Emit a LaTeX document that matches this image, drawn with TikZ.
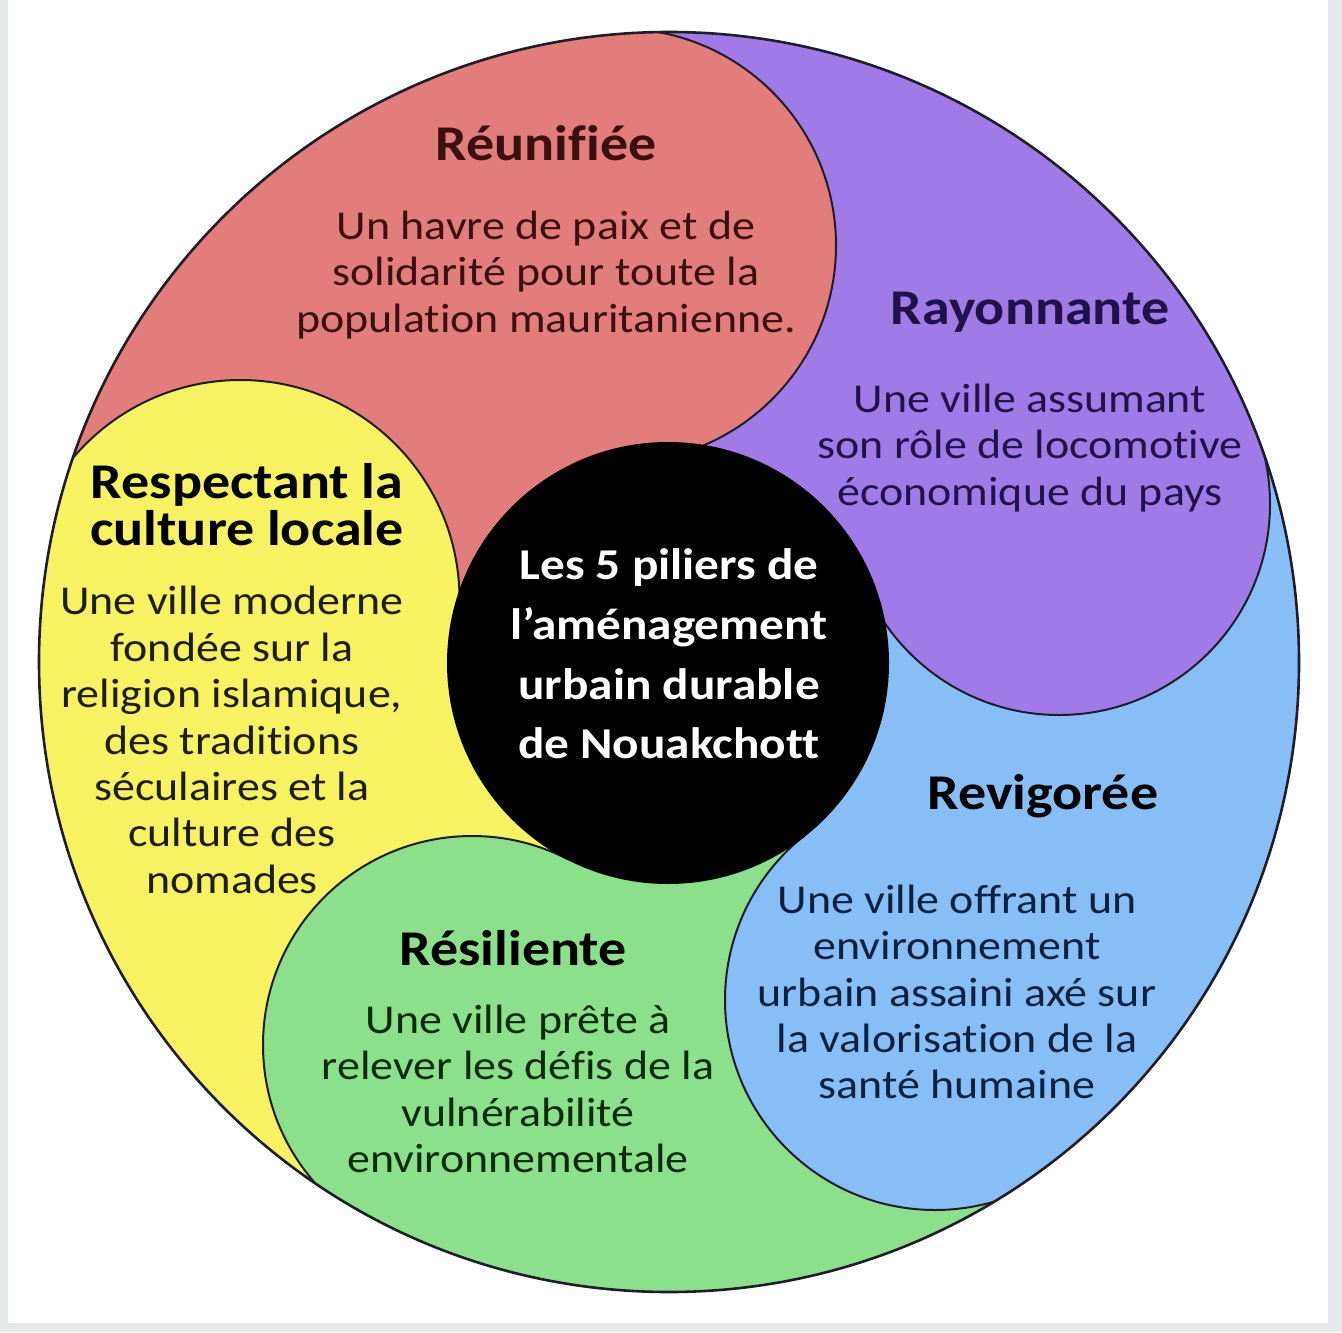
\documentclass[tikz,border=0pt]{standalone}
\usepackage{fontspec}
\setmainfont{Carlito}[FakeStretch=1.12, Ligatures=NoCommon]
\definecolor{cred}{HTML}{E27D7B}
\definecolor{cpurple}{HTML}{A07BE8}
\definecolor{cblue}{HTML}{87BEF6}
\definecolor{cgreen}{HTML}{8DE08B}
\definecolor{cyellow}{HTML}{F6F262}
\definecolor{tred}{HTML}{3A1010}
\definecolor{tpurple}{HTML}{22124A}
\definecolor{tblue}{HTML}{0C2140}
\definecolor{tgreen}{HTML}{0C2A0C}
\definecolor{tyellow}{HTML}{1E1E06}
\definecolor{frame}{HTML}{E6EAEA}
\definecolor{edge}{HTML}{1E1E2A}
\tikzset{
  titletext/.style={font=\fontsize{25}{23.5}\selectfont\bfseries, align=center, inner sep=0pt},
  bodytext/.style={font=\fontsize{20.5}{23.2}\selectfont, align=center, inner sep=0pt},
  centertext/.style={font=\fontsize{22}{29.9}\selectfont\bfseries, align=center, text=white, inner sep=0pt},
  lobeline/.style={draw=edge, line width=1pt},
  outerline/.style={draw=edge, line width=1.3pt},
}
\begin{document}
\begin{tikzpicture}[x=0.5pt,y=0.5pt]
\fill[frame] (0,0) rectangle (1342,-1332);
\fill[white] (8,0) rectangle (1328,-1323);
\useasboundingbox (0,0) rectangle (1342,-1332);
\coordinate (O) at (669,-662);
% base sectors (gaps)
\begin{scope}
\clip (O) circle (630);
\fill[cpurple] (O) -- ([shift={(O)}]22.05:1000) -- ([shift={(O)}]59.45:1000) -- ([shift={(O)}]96.85:1000) -- cycle;
\fill[cred] (O) -- ([shift={(O)}]96.85:1000) -- ([shift={(O)}]134.2:1000) -- ([shift={(O)}]171.6:1000) -- cycle;
\fill[cyellow] (O) -- ([shift={(O)}]171.6:1000) -- ([shift={(O)}]207.2:1000) -- ([shift={(O)}]242.8:1000) -- cycle;
\fill[cgreen] (O) -- ([shift={(O)}]242.8:1000) -- ([shift={(O)}]275.5:1000) -- ([shift={(O)}]308.2:1000) -- cycle;
\fill[cblue] (O) -- ([shift={(O)}]308.2:1000) -- ([shift={(O)}]345.1:1000) -- ([shift={(O)}]382.05:1000) -- cycle;
% lobes
\fill[cred] (619,-245.5) circle (217);
\fill[cpurple] (1059,-504) circle (211);
\fill[cblue] (935,-1000) circle (210);
\fill[cgreen] (472,-1045) circle (209);
\fill[cyellow] (240.5,-599) circle (219);
\end{scope}
% lobe outlines (clockwise side only)
\foreach \cx/\cy/\r/\t in {619/-245.5/217/96.85, 1059/-504/211/22.05, 935/-1000/210/308.2, 472/-1045/209/242.8, 240.5/-599/219/171.6}{
  \begin{scope}
  \clip (O) circle (630);
  \clip ([shift={(O)}]\t:1500) -- ([shift={(O)}]\t-45:2122) -- ([shift={(O)}]\t-135:2122) -- ([shift={(O)}]\t+180:1500) -- cycle;
  \draw[lobeline] (\cx,\cy) circle (\r);
  \end{scope}
}
\draw[outerline] (O) circle (630);
\node[circle, fill=black, minimum size=221pt, inner sep=0pt] (hub) at (668,-663) {};
% texts
\node[centertext] (hubtext) at (669,-654) {Les 5 piliers de\\l’aménagement\\urbain durable\\de Nouakchott};
\node[titletext, text=tred] (t1) at (546,-143) {Réunifiée};
\node[bodytext, text=tred] (b1) at (546,-275) {Un havre de paix et de\\solidarité pour toute la\\population mauritanienne.};
\node[titletext, text=tpurple] (t2) at (1030,-312) {Rayonnante};
\node[bodytext, text=tpurple] (b2) at (1030,-448) {Une ville assumant\\son rôle de locomotive\\économique du pays};
\node[titletext, text=black] (t3) at (247,-505) {Respectant la\\culture locale};
\node[bodytext, text=tyellow] (b3) at (232,-740) {Une ville moderne\\fondée sur la\\religion islamique,\\des traditions\\séculaires et la\\culture des\\nomades};
\node[titletext, text=black] (t4) at (513,-948) {Résiliente};
\node[bodytext, text=tgreen] (b4) at (518,-1089) {Une ville prête à\\relever les défis de la\\vulnérabilité\\environnementale};
\node[titletext, text=black] (t5) at (1043,-796) {Revigorée};
\node[bodytext, text=tblue] (b5) at (957,-992) {Une ville offrant un\\environnement\\urbain assaini axé sur\\la valorisation de la\\santé humaine};
\end{tikzpicture}
\end{document}
